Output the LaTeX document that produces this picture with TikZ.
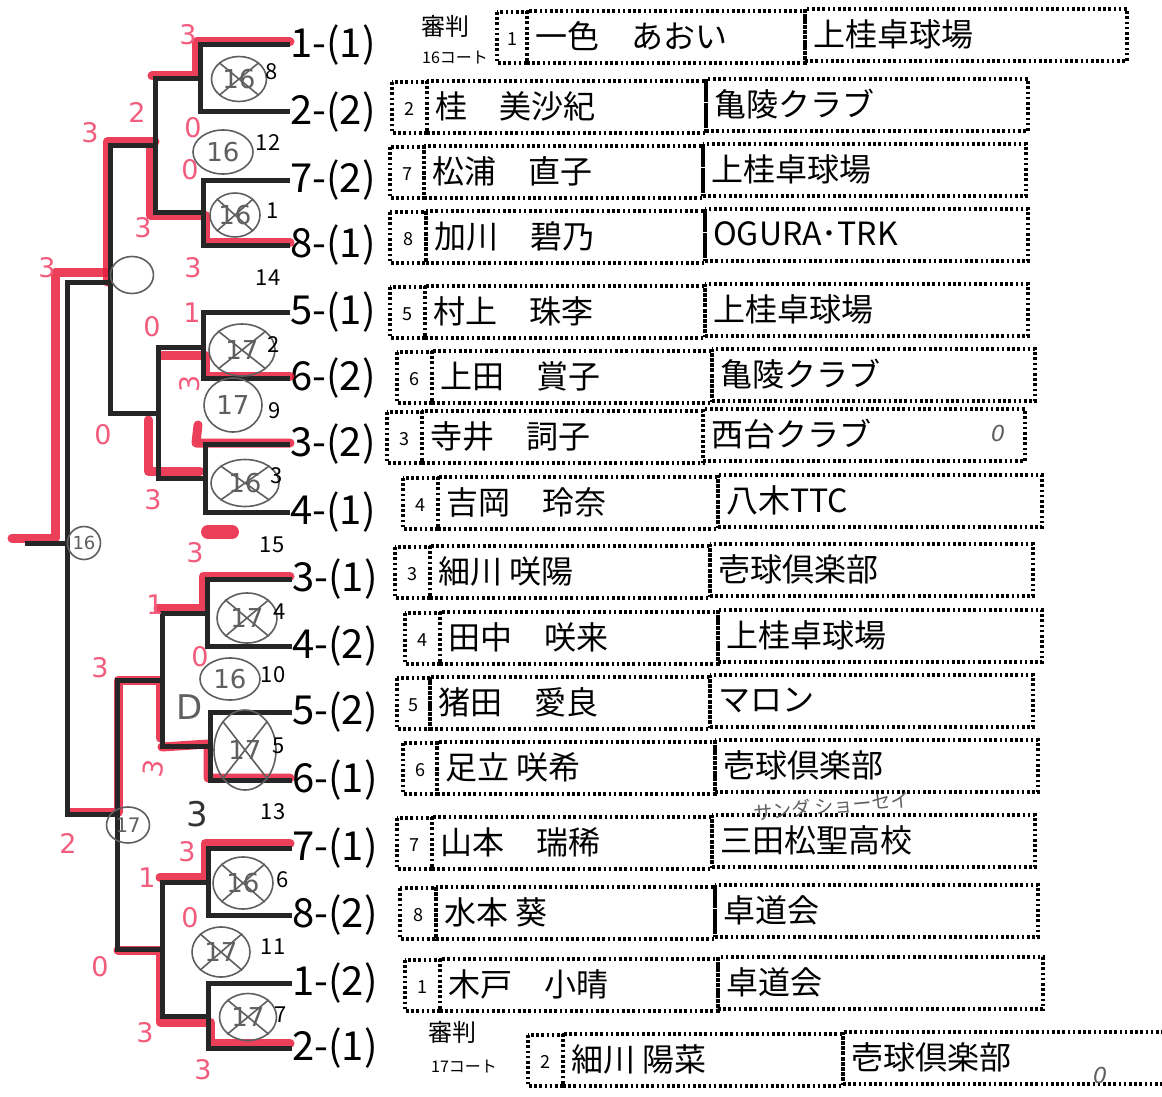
\documentclass[tikz,border=0pt]{standalone}
\usepackage{fontspec}
\setmainfont{Noto Sans CJK JP}
\newfontfamily\hand{DejaVu Sans}
\usetikzlibrary{shapes}
\definecolor{hlred}{RGB}{232,30,62}
\definecolor{pinkred}{RGB}{242,92,125}
\definecolor{pencil}{RGB}{95,95,95}
\tikzset{
  bk/.style={line width=5pt, black!85, line join=miter},
  hl/.style={line width=9pt, hlred, opacity=.85, line cap=round, line join=round},
  seed/.style={anchor=west, inner sep=0pt, font=\fontsize{40}{40}\selectfont},
  dotbox/.style={draw, line width=3.2pt, dash pattern=on 2.6pt off 2.6pt},
  score/.style={text=pinkred, font=\hand\fontsize{27}{27}\selectfont},
  circ/.style={ellipse, draw=pencil, line width=1.6pt, inner sep=0pt, text=pencil, font=\hand\fontsize{26}{26}\selectfont},
  xline/.style={draw=pencil, line width=1.6pt},
  mno/.style={inner sep=0pt, font=\fontsize{22}{22}\selectfont}
}
\begin{document}
\begin{tikzpicture}[x=1pt,y=-1pt]
\fill[white] (0,0) rectangle (1162,1097);
\useasboundingbox (0,0) rectangle (1162,1097);
% seeds
\node[seed] (p1) at (290,45) {1-(1)};
\node[seed] (p2) at (290,112) {2-(2)};
\node[seed] (p3) at (290,180) {7-(2)};
\node[seed] (p4) at (290,245) {8-(1)};
\node[seed] (p5) at (290,312) {5-(1)};
\node[seed] (p6) at (290,378) {6-(2)};
\node[seed] (p7) at (290,444) {3-(2)};
\node[seed] (p8) at (290,512) {4-(1)};
\node[seed] (p9) at (292,579) {3-(1)};
\node[seed] (p10) at (292,646) {4-(2)};
\node[seed] (p11) at (292,712) {5-(2)};
\node[seed] (p12) at (292,780) {6-(1)};
\node[seed] (p13) at (292,848) {7-(1)};
\node[seed] (p14) at (292,915) {8-(2)};
\node[seed] (p15) at (292,983) {1-(2)};
\node[seed] (p16) at (292,1048) {2-(1)};
% match points
\coordinate (m1) at (200,79);
\coordinate (m2) at (203,212);
\coordinate (m3) at (203,347);
\coordinate (m4) at (205,478);
\coordinate (m5) at (207,613);
\coordinate (m6) at (210,746);
\coordinate (m7) at (208,882);
\coordinate (m8) at (208,1016);
\coordinate (q1) at (155,146);
\coordinate (q2) at (158,413);
\coordinate (q3) at (162,680);
\coordinate (q4) at (162,949);
\coordinate (s1) at (110,282);
\coordinate (s2) at (117,814);
\coordinate (f) at (67,543);
\coordinate (w) at (25,543);
% red marker
\draw[hl] (290,42) -- (196,42) -- (196,76) -- (152,76);
\draw[hl] (155,142) -- (107,142) -- (107,282);
\draw[hl] (150,148) -- (150,215) -- (205,215) -- (205,242) -- (290,242);
\draw[hl] (108,272) -- (55,272) -- (55,538) -- (12,538);
\draw[hl] (162,355) -- (205,355) -- (205,376) -- (290,376);
\draw[hl] (290,443) -- (196,443) -- (198,425);
\draw[hl] (148,420) -- (148,471) -- (200,471);
\draw[hl, line width=14pt] (208,532) -- (232,532);
\draw[hl] (290,576) -- (203,576) -- (203,608) -- (158,608);
\draw[hl] (70,812) -- (118,812) -- (118,680) -- (160,680) -- (160,738);
\draw[hl] (162,747) -- (208,744) -- (208,778) -- (290,778);
\draw[hl] (290,843) -- (205,843) -- (205,877) -- (160,877);
\draw[hl] (118,950) -- (160,950) -- (160,1022) -- (210,1022) -- (210,1043) -- (290,1043);
% bracket
\draw[bk] (p1.west) -| (m1) |- (p2.west);
\draw[bk] (p3.west) -| (m2) |- (p4.west);
\draw[bk] (p5.west) -| (m3) |- (p6.west);
\draw[bk] (p7.west) -| (m4) |- (p8.west);
\draw[bk] (p9.west) -| (m5) |- (p10.west);
\draw[bk] (p11.west) -| (m6) |- (p12.west);
\draw[bk] (p13.west) -| (m7) |- (p14.west);
\draw[bk] (p15.west) -| (m8) |- (p16.west);
\draw[bk] (m1) -| (q1) |- (m2);
\draw[bk] (m3) -| (q2) |- (m4);
\draw[bk] (m5) -| (q3) |- (m6);
\draw[bk] (m7) -| (q4) |- (m8);
\draw[bk] (q1) -| (s1) |- (q2);
\draw[bk] (q3) -| (s2) |- (q4);
\draw[bk] (s1) -| (f) |- (s2);
\draw[bk] (f) -- (w);
% circled numbers
\node[circ, minimum width=55pt, minimum height=45pt] (c1) at (239,79) {16};
\node[circ, minimum width=60pt, minimum height=44pt] (c2) at (223,152) {16};
\node[circ, minimum width=50pt, minimum height=44pt] (c3) at (235,215) {16};
\node[circ, minimum width=43pt, minimum height=37pt, text=pencil!30] (c4) at (132,275) {};
\node[circ, minimum width=66pt, minimum height=52pt] (c5) at (242,350) {17};
\node[circ, minimum width=58pt, minimum height=54pt] (c6) at (233,405) {17};
\node[circ, minimum width=68pt, minimum height=47pt] (c7) at (245,483) {16};
\node[circ, minimum width=33pt, minimum height=33pt, font=\hand\fontsize{18}{18}\selectfont] (c8) at (84,543) {16};
\node[circ, minimum width=60pt, minimum height=50pt] (c9) at (247,618) {17};
\node[circ, minimum width=60pt, minimum height=42pt] (c10) at (230,679) {16};
\node[circ, minimum width=62pt, minimum height=80pt] (c11) at (245,750) {17};
\node[circ, minimum width=43pt, minimum height=36pt, font=\hand\fontsize{20}{20}\selectfont] (c12) at (128,825) {17};
\node[circ, minimum width=60pt, minimum height=52pt] (c13) at (243,883) {16};
\node[circ, minimum width=58pt, minimum height=50pt] (c14) at (221,952) {17};
\node[circ, minimum width=57pt, minimum height=47pt] (c15) at (248,1017) {17};
\foreach \c in {c1,c3,c5,c7,c9,c11,c13,c14,c15}{
  \draw[xline] (\c.north east) -- (\c.south west);
  \draw[xline] (\c.north west) -- (\c.south east);
}
% match numbers
\node[mno] (n8) at (272,72) {8};
\node[mno] (n12) at (268,143) {12};
\node[mno] (n1) at (273,211) {1};
\node[mno] (n14) at (268,278) {14};
\node[mno] (n2) at (274,345) {2};
\node[mno] (n9) at (275,411) {9};
\node[mno] (n3) at (277,476) {3};
\node[mno] (n15) at (272,545) {15};
\node[mno] (n4) at (280,612) {4};
\node[mno] (n10) at (273,675) {10};
\node[mno] (n5) at (279,746) {5};
\node[mno] (n13) at (273,812) {13};
\node[mno] (n6) at (283,880) {6};
\node[mno] (n11) at (273,947) {11};
\node[mno] (n7) at (281,1015) {7};
% scores
\node[score] (sc1) at (188,35) {3};
\node[score] (sc2) at (137,112) {2};
\node[score] (sc3) at (90,133) {3};
\node[score] (sc4) at (193,128) {0};
\node[score] (sc5) at (190,170) {0};
\node[score] (sc6) at (143,228) {3};
\node[score] (sc7) at (193,268) {3};
\node[score] (sc8) at (47,268) {3};
\node[score] (sc9) at (192,313) {1};
\node[score] (sc10) at (152,327) {0};
\node[score] (sc11) at (103,435) {0};
\node[score, rotate=90] (sc12) at (190,384) {3};
\node[score] (sc13) at (153,500) {3};
\node[score] (sc14) at (195,553) {3};
\node[score] (sc15) at (155,605) {1};
\node[score] (sc16) at (100,668) {3};
\node[score] (sc17) at (200,657) {0};
\node[score, rotate=80] (sc18) at (153,768) {3};
\node[score] (sc19) at (68,843) {2};
\node[score] (sc20) at (187,852) {3};
\node[score] (sc21) at (147,878) {1};
\node[score] (sc22) at (190,918) {0};
\node[score] (sc23) at (100,967) {0};
\node[score] (sc24) at (145,1033) {3};
\node[score] (sc25) at (203,1070) {3};
\node[score, text=pencil, font=\hand\fontsize{34}{34}\selectfont] (sc26) at (190,707) {D};
\node[score, text=black!80, font=\hand\fontsize{34}{34}\selectfont] (sc27) at (197,814) {3};
% entries
\foreach \y/\a/\b/\c/\d/\n/\nm/\cl [count=\i] in {
  37/497/527/805/1127/1/一色　あおい/上桂卓球場,
  107/392/427/706/1028/2/桂　美沙紀/亀陵クラブ,
  172/390/424/703/1026/7/松浦　直子/上桂卓球場,
  237/390/426/705/1028/8/加川　碧乃/OGURA･TRK,
  312/390/425/705/1028/5/村上　珠李/上桂卓球場,
  377/397/432/712/1035/6/上田　賞子/亀陵クラブ,
  437/387/422/703/1025/3/寺井　詞子/西台クラブ,
  503/403/438/718/1042/4/吉岡　玲奈/八木TTC,
  572/395/430/710/1033/3/細川 咲陽/壱球倶楽部,
  638/405/440/718/1042/4/田中　咲来/上桂卓球場,
  703/397/430/710/1033/5/猪田　愛良/マロン,
  768/403/437/715/1038/6/足立 咲希/壱球倶楽部,
  843/397/432/712/1035/7/山本　瑞稀/三田松聖高校,
  913/400/436/715/1038/8/水本 葵/卓道会,
  985/405/440/718/1043/1/木戸　小晴/卓道会,
  1060/528/563/843/1175/2/細川 陽菜/壱球倶楽部}{
  \draw[dotbox] (\a,\y-25) rectangle (\b,\y+26);
  \draw[dotbox] (\b,\y-26) rectangle (\c,\y+26);
  \draw[dotbox] (\c,\y-28) rectangle (\d,\y+24);
  \node[mno, font=\fontsize{18}{18}\selectfont] (no\i) at ({(\a+\b)/2},\y+2) {\n};
  \node[anchor=west, inner sep=0pt, font=\fontsize{32}{32}\selectfont] (nm\i) at (\b+8,\y-1) {\nm};
  \node[anchor=west, inner sep=0pt, font=\fontsize{32}{32}\selectfont] (cl\i) at (\c+8,\y-3) {\cl};
}
% referee
\node[inner sep=0pt, font=\fontsize{24}{24}\selectfont] (ref1) at (445,26) {審判};
\node[inner sep=0pt, font=\fontsize{16}{16}\selectfont] (ct1) at (455,58) {16コート};
\node[inner sep=0pt, font=\fontsize{24}{24}\selectfont] (ref2) at (452,1032) {審判};
\node[inner sep=0pt, font=\fontsize{16}{16}\selectfont] (ct2) at (464,1067) {17コート};
% pencil notes
\node[text=pencil, rotate=5, inner sep=0pt, font=\fontsize{19}{19}\selectfont] (kana) at (832,806) {サンダ ショーセイ};
\node[text=pencil, font=\hand\itshape\fontsize{22}{22}\selectfont] (o1) at (998,433) {0};
\node[text=pencil, font=\hand\itshape\fontsize{22}{22}\selectfont] (o2) at (1100,1075) {0};
\end{tikzpicture}
\end{document}
